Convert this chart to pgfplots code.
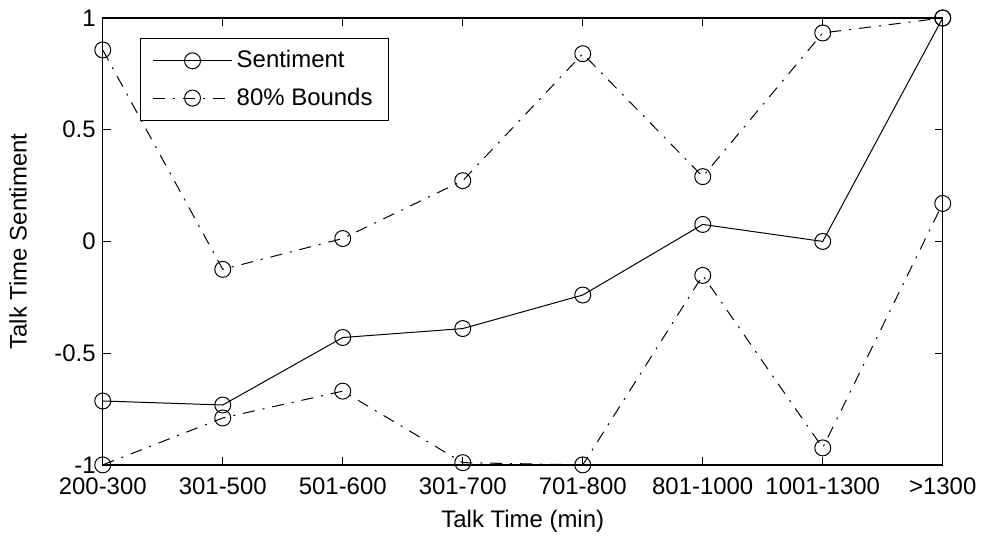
\documentclass[border=0pt]{standalone}
\usepackage{fontspec}
\setmainfont{Liberation Sans}
\usepackage{pgfplots}
\pgfplotsset{compat=1.18}
\begin{document}
\begin{tikzpicture}[font=\fontsize{12}{14.4}\selectfont]
\begin{axis}[
  scale only axis,
  width=421pt, height=224pt,
  xmin=0, xmax=7, ymin=-1, ymax=1,
  xtick={0,1,2,3,4,5,6,7},
  xticklabels={200-300,301-500,501-600,301-700,701-800,801-1000,1001-1300,>1300},
  ytick={-1,-0.5,0,0.5,1},
  yticklabels={-1,-0.5,0,0.5,1},
  /pgf/number format/assume math mode=true,
  tick align=inside,
  major tick length=4pt,
  axis line style={line width=0.7pt},
  every tick/.style={line width=0.6pt, black},
  xlabel={Talk Time (min)},
  ylabel={Talk Time Sentiment},
  xlabel style={yshift=-1pt},
  ylabel style={yshift=7pt},
  xticklabel style={yshift=-3pt},
  legend style={at={(0.044,0.955)}, anchor=north west, draw=black, line width=0.6pt,
    row sep=4.5pt, inner xsep=6pt, inner ysep=4pt,
    nodes={inner sep=2pt}},
  legend cell align=left,
  legend image code/.code={
    \draw[mark repeat=2,mark phase=2] plot coordinates {(0cm,0cm) (0.7cm,0cm) (1.4cm,0cm)};
  },
]
\addplot[black, line width=0.5pt, mark=o, mark size=4pt, mark options={solid}]
  coordinates {(0,-0.714) (1,-0.732) (2,-0.43) (3,-0.39) (4,-0.24) (5,0.076) (6,0.0) (7,1.0)};
\addlegendentry{Sentiment}
\addplot[black, line width=0.5pt, dash pattern=on 6pt off 4pt on 1pt off 4pt, mark=o, mark size=4pt, mark options={solid}]
  coordinates {(0,0.857) (1,-0.125) (2,0.013) (3,0.272) (4,0.84) (5,0.29) (6,0.933) (7,1.0)};
\addlegendentry{80\% Bounds}
\addplot[black, line width=0.5pt, dash pattern=on 6pt off 4pt on 1pt off 4pt, mark=o, mark size=4pt, mark options={solid}, forget plot]
  coordinates {(0,-1.0) (1,-0.79) (2,-0.67) (3,-0.99) (4,-1.0) (5,-0.152) (6,-0.924) (7,0.17)};
\end{axis}
\path (current axis.south west) ++(-51.5pt,-36.5pt) rectangle ++(491.5pt,269.5pt);
\end{tikzpicture}
\end{document}
